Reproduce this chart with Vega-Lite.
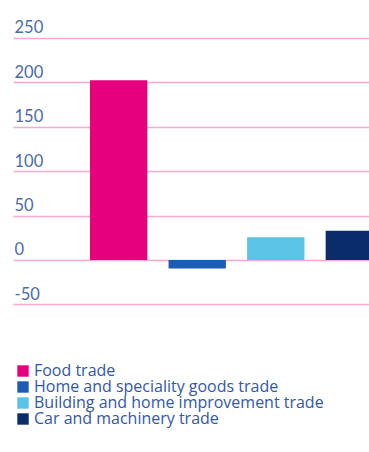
{
  "$schema": "https://vega.github.io/schema/vega-lite/v6.json",
  "autosize": {"type": "none"},
  "padding": {"left": 13, "top": 38, "right": 0, "bottom": 148},
  "width": 447,
  "height": 266.4,
  "background": "white",
  "data": {
    "values": [
      {"sector": "Food trade", "value": 202.5},
      {"sector": "Home and speciality goods trade", "value": -9.5},
      {"sector": "Building and home improvement trade", "value": 25.5},
      {"sector": "Car and machinery trade", "value": 33}
    ]
  },
  "mark": {"type": "bar"},
  "encoding": {
    "x": {
      "field": "sector",
      "type": "nominal",
      "sort": null,
      "scale": {"paddingInner": 0.27, "paddingOuter": 0.98},
      "axis": null
    },
    "y": {
      "field": "value",
      "type": "quantitative",
      "scale": {"domain": [-50, 250], "nice": false, "zero": false},
      "axis": {
        "values": [-50, 0, 50, 100, 150, 200, 250],
        "labelExpr": "datum.value < 0 ? '-' + abs(datum.value) : datum.label",
        "title": null,
        "domain": false,
        "ticks": false,
        "labelAlign": "left",
        "labelBaseline": "alphabetic",
        "labelPadding": -1,
        "labelOffset": -5,
        "labelFont": "Lato",
        "labelFontSize": 16.5,
        "labelColor": "#4a6aae",
        "grid": true,
        "gridColor": "#f7a9cf",
        "gridWidth": 1.5,
        "gridOpacity": 1
      }
    },
    "color": {
      "field": "sector",
      "type": "nominal",
      "sort": null,
      "scale": {
        "domain": ["Food trade", "Home and speciality goods trade", "Building and home improvement trade", "Car and machinery trade"],
        "range": ["#e6007e", "#1d5cb5", "#5bc4e6", "#0b2c6b"]
      },
      "legend": {
        "title": null,
        "orient": "none",
        "legendX": 2,
        "legendY": 325,
        "symbolType": "square",
        "symbolSize": 130,
        "symbolStrokeWidth": 0,
        "symbolOpacity": 1,
        "labelFont": "Open Sans",
        "labelFontSize": 16,
        "labelColor": "#3157ab",
        "labelOffset": 3,
        "rowPadding": 0,
        "labelLimit": 400
      }
    }
  },
  "config": {"view": {"stroke": null}}
}
